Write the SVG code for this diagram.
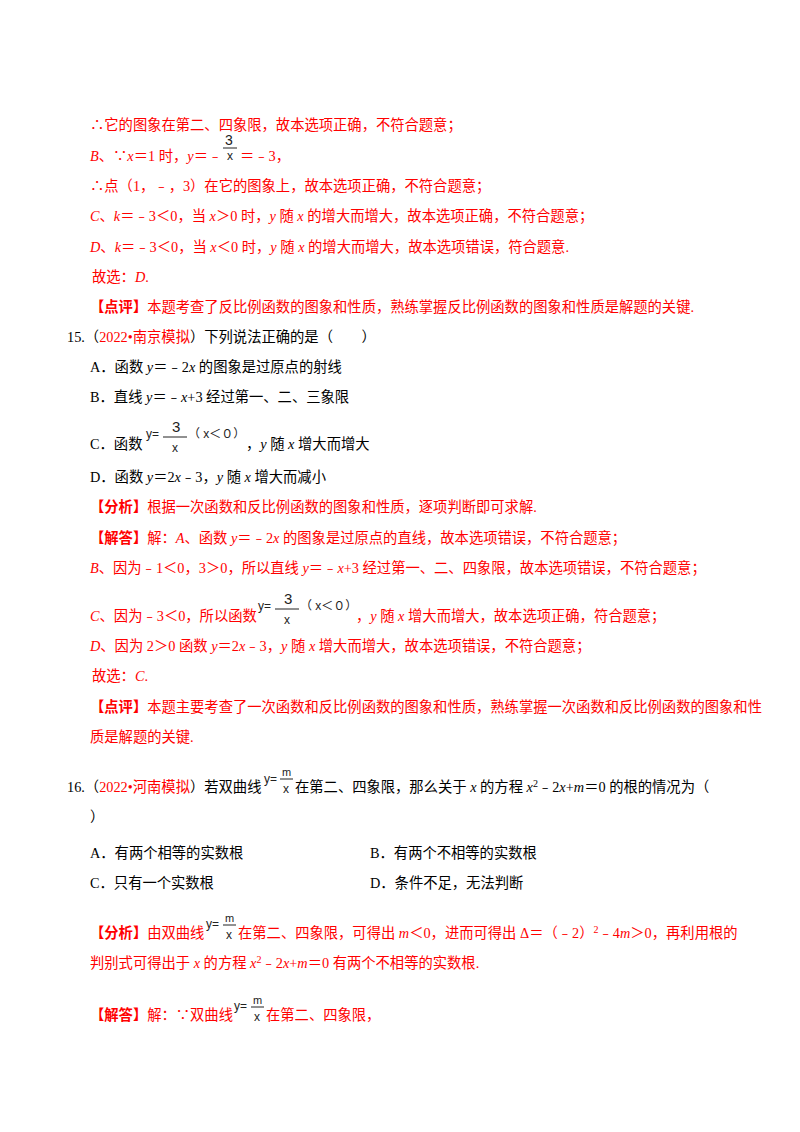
<svg xmlns="http://www.w3.org/2000/svg" width="800" height="1132" viewBox="0 0 800 1132">
<style>
text{font-family:"Liberation Serif","Noto Sans CJK SC",serif;font-size:14.3px;fill:#000}
.r{fill:#ff0000}
.b{font-weight:bold}
.f{font-family:"Liberation Sans","Noto Sans CJK SC",sans-serif;fill:#222;font-size:12px}
.i{font-style:italic}
line{stroke:#222;stroke-width:1}
</style>
<rect width="800" height="1132" fill="#fff"/>
<text class="r" x="90" y="130">∴它的图象在第二、四象限，故本选项正确，不符合题意；</text>
<text class="f" x="225" y="145" style="font-size:14px">3</text>
<line x1="223" y1="148" x2="237" y2="148"/>
<text class="f" x="227" y="160">x</text>
<text class="r" x="90" y="161"><tspan class="i">B</tspan>、∵<tspan class="i">x</tspan>＝1 时，<tspan class="i">y</tspan>＝﹣</text>
<text class="r" x="240" y="161">＝﹣3，</text>
<text class="r" x="90" y="191">∴点（1，﹣，3）在它的图象上，故本选项正确，不符合题意；</text>
<text class="r" x="90" y="221"><tspan class="i">C</tspan>、<tspan class="i">k</tspan>＝﹣3＜0，当 <tspan class="i">x</tspan>＞0 时，<tspan class="i">y</tspan> 随 <tspan class="i">x</tspan> 的增大而增大，故本选项正确，不符合题意；</text>
<text class="r" x="90" y="252"><tspan class="i">D</tspan>、<tspan class="i">k</tspan>＝﹣3＜0，当 <tspan class="i">x</tspan>＜0 时，<tspan class="i">y</tspan> 随 <tspan class="i">x</tspan> 的增大而增大，故本选项错误，符合题意.</text>
<text class="r" x="92" y="282">故选：<tspan class="i">D</tspan>.</text>
<text class="r" x="90" y="312"><tspan class="b">【点评】</tspan>本题考查了反比例函数的图象和性质，熟练掌握反比例函数的图象和性质是解题的关键.</text>
<text x="67" y="342">15.（<tspan class="r">2022•南京模拟</tspan>）下列说法正确的是（　　）</text>
<text x="90" y="372">A．函数 <tspan class="i">y</tspan>＝﹣2<tspan class="i">x</tspan> 的图象是过原点的射线</text>
<text x="90" y="402">B．直线 <tspan class="i">y</tspan>＝﹣<tspan class="i">x</tspan>+3 经过第一、二、三象限</text>
<g>
<text class="f" x="146" y="438">y=</text>
<text class="f" x="172" y="432" style="font-size:15px">3</text>
<line x1="163" y1="437" x2="187" y2="437"/>
<text class="f" x="172" y="452">x</text>
<text class="f" x="188" y="438">（ x＜０）</text>
</g>
<text x="90" y="449">C．函数</text>
<text x="246" y="449">，<tspan class="i">y</tspan> 随 <tspan class="i">x</tspan> 增大而增大</text>
<text x="90" y="482">D．函数 <tspan class="i">y</tspan>＝2<tspan class="i">x</tspan>﹣3，<tspan class="i">y</tspan> 随 <tspan class="i">x</tspan> 增大而减小</text>
<text class="r" x="90" y="512"><tspan class="b">【分析】</tspan>根据一次函数和反比例函数的图象和性质，逐项判断即可求解.</text>
<text class="r" x="90" y="543"><tspan class="b">【解答】</tspan>解：<tspan class="i">A</tspan>、函数 <tspan class="i">y</tspan>＝﹣2<tspan class="i">x</tspan> 的图象是过原点的直线，故本选项错误，不符合题意；</text>
<text class="r" x="90" y="573"><tspan class="i">B</tspan>、因为﹣1＜0，3＞0，所以直线 <tspan class="i">y</tspan>＝﹣<tspan class="i">x</tspan>+3 经过第一、二、四象限，故本选项错误，不符合题意；</text>
<g>
<text class="f" x="258" y="610">y=</text>
<text class="f" x="284" y="604" style="font-size:15px">3</text>
<line x1="275" y1="609" x2="299" y2="609"/>
<text class="f" x="284" y="624">x</text>
<text class="f" x="300" y="610">（ x＜０）</text>
</g>
<text class="r" x="90" y="621"><tspan class="i">C</tspan>、因为﹣3＜0，所以函数</text>
<text class="r" x="356" y="621">，<tspan class="i">y</tspan> 随 <tspan class="i">x</tspan> 增大而增大，故本选项正确，符合题意；</text>
<text class="r" x="90" y="651"><tspan class="i">D</tspan>、因为 2＞0 函数 <tspan class="i">y</tspan>＝2<tspan class="i">x</tspan>﹣3，<tspan class="i">y</tspan> 随 <tspan class="i">x</tspan> 增大而增大，故本选项错误，不符合题意；</text>
<text class="r" x="92" y="681">故选：<tspan class="i">C</tspan>.</text>
<text class="r" x="90" y="712"><tspan class="b">【点评】</tspan>本题主要考查了一次函数和反比例函数的图象和性质，熟练掌握一次函数和反比例函数的图象和性</text>
<text class="r" x="90" y="742">质是解题的关键.</text>
<g>
<text class="f" x="264" y="783">y=</text>
<text class="f" x="282" y="776" style="font-size:11px">m</text>
<line x1="280" y1="779" x2="293" y2="779"/>
<text class="f" x="283" y="793">x</text>
</g>
<text x="67" y="792">16.（<tspan class="r">2022•河南模拟</tspan>）若双曲线</text>
<text x="295" y="792">在第二、四象限，那么关于 <tspan class="i">x</tspan> 的方程 <tspan class="i">x</tspan><tspan dy="-5" style="font-size:10px">2</tspan><tspan dy="5">﹣2</tspan><tspan class="i">x</tspan>+<tspan class="i">m</tspan>＝0 的根的情况为（</text>
<text x="90" y="822">）</text>
<text x="90" y="858">A．有两个相等的实数根</text>
<text x="370" y="858">B．有两个不相等的实数根</text>
<text x="90" y="888">C．只有一个实数根</text>
<text x="370" y="888">D．条件不足，无法判断</text>
<g>
<text class="f" x="206" y="928">y=</text>
<text class="f" x="225" y="922" style="font-size:11px">m</text>
<line x1="223" y1="925" x2="236" y2="925"/>
<text class="f" x="226" y="939">x</text>
</g>
<text class="r" x="90" y="938"><tspan class="b">【分析】</tspan>由双曲线</text>
<text class="r" x="238" y="938">在第二、四象限，可得出 <tspan class="i">m</tspan>＜0，进而可得出 Δ＝（﹣2）<tspan dy="-5" style="font-size:10px">2</tspan><tspan dy="5">﹣4</tspan><tspan class="i">m</tspan>＞0，再利用根的</text>
<text class="r" x="90" y="968">判别式可得出于 <tspan class="i">x</tspan> 的方程 <tspan class="i">x</tspan><tspan dy="-5" style="font-size:10px">2</tspan><tspan dy="5">﹣2</tspan><tspan class="i">x</tspan>+<tspan class="i">m</tspan>＝0 有两个不相等的实数根.</text>
<g>
<text class="f" x="234" y="1010">y=</text>
<text class="f" x="253" y="1004" style="font-size:11px">m</text>
<line x1="251" y1="1007" x2="264" y2="1007"/>
<text class="f" x="254" y="1021">x</text>
</g>
<text class="r" x="90" y="1020"><tspan class="b">【解答】</tspan>解：∵双曲线</text>
<text class="r" x="266" y="1020">在第二、四象限，</text>
</svg>
